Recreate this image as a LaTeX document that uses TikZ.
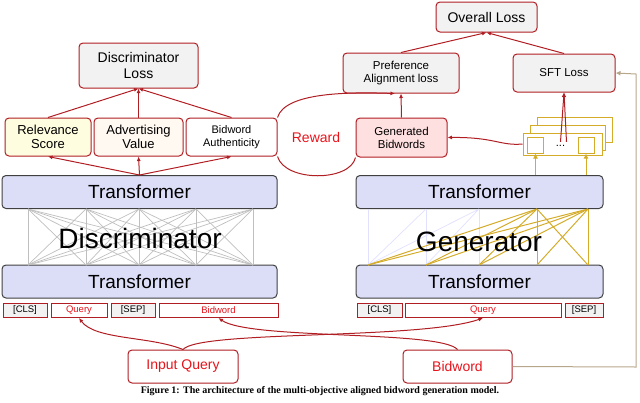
\documentclass[tikz,border=0pt]{standalone}
\usepackage{fontspec}
\setmainfont{Liberation Sans}
\newfontfamily\capfont{Liberation Serif}
\usetikzlibrary{arrows.meta}
\definecolor{bred}{HTML}{B01E24}
\definecolor{rtxt}{HTML}{E8141C}
\definecolor{lgray}{HTML}{F2F2F2}
\definecolor{tblue}{HTML}{DCDEF8}
\definecolor{gold}{HTML}{D4AC2A}
\definecolor{tan}{HTML}{B8A68A}
\begin{document}
\begin{tikzpicture}[x=1pt,y=-1pt,
box/.style={draw=bred, line width=1pt, fill=lgray, rounded corners=4pt, align=center, inner sep=0pt, font=\fontsize{13}{14.5}\selectfont},
trans/.style={draw=black!75, line width=1pt, fill=tblue, rounded corners=4pt, minimum width=275pt, minimum height=33pt, inner sep=0pt, font=\fontsize{19}{20}\selectfont},
tok/.style={draw=bred, line width=1pt, fill=lgray, minimum height=14pt, inner sep=0pt, font=\fontsize{9.5}{10}\selectfont},
arr/.style={bred, line width=1pt, -{Latex[length=4.5pt,width=4pt]}},
net/.style={black!25, line width=0.7pt},
yel/.style={draw=gold, line width=1pt, fill=white}
]
\useasboundingbox (0,0) rectangle (640,402);
% discriminator side
\node[box, minimum width=119pt, minimum height=45pt, font=\fontsize{14}{16}\selectfont] (dloss) at (138.5,65.5) {Discriminator\\Loss};
\node[box, fill=yellow!12, minimum width=86pt, minimum height=38pt] (rel) at (48,137) {Relevance\\Score};
\node[box, fill=orange!5, minimum width=89pt, minimum height=38pt] (adv) at (138.5,137) {Advertising\\Value};
\node[box, fill=white, minimum width=91pt, minimum height=38pt, font=\fontsize{11}{13}\selectfont] (auth) at (231.5,137) {Bidword\\Authenticity};
\node[trans] (dtop) at (139.5,192) {Transformer};
\node[trans] (dbot) at (139.5,281.5) {Transformer};
\foreach \i/\x in {1/28,2/86,3/139,4/196,5/253}{
  \coordinate (dt\i) at (\x,209);
  \coordinate (db\i) at (\x,265);
}
\foreach \i in {1,...,5}{\foreach \j in {1,...,5}{\draw[net] (dt\i) -- (db\j);}}
\node[font=\fontsize{28}{30}\selectfont] (dname) at (140,238) {Discriminator};
\node[tok, minimum width=44pt] (dcls) at (25,310.5) {[CLS]};
\node[tok, fill=white, text=rtxt, minimum width=56pt] (dq) at (79,310.5) {Query};
\node[tok, minimum width=44pt] (dsep) at (133,310.5) {[SEP]};
\node[tok, fill=white, text=rtxt, minimum width=119pt] (db) at (218.5,310.5) {Bidword};
\foreach \n in {rel,adv,auth}{\draw[arr] (dtop.north) -- (\n.south);}
\foreach \n in {rel,adv,auth}{\draw[arr] (\n.north) -- (dloss.south);}
% generator side
\node[box, minimum width=101pt, minimum height=30pt, font=\fontsize{14}{15}\selectfont] (oloss) at (486.5,17) {Overall Loss};
\node[box, minimum width=116pt, minimum height=40pt, font=\fontsize{11.5}{13}\selectfont] (pref) at (401,73) {Preference\\Alignment loss};
\node[box, minimum width=102pt, minimum height=38pt, font=\fontsize{11.5}{13}\selectfont] (sft) at (564,73) {SFT Loss};
\node[box, fill=red!12, minimum width=91pt, minimum height=39pt, font=\fontsize{11.5}{13}\selectfont] (gen) at (401.5,137.5) {Generated\\Bidwords};
\node[trans, minimum width=247pt] (gtop) at (479.5,192) {Transformer};
\node[trans, minimum width=247pt] (gbot) at (479.5,281.5) {Transformer};
\foreach \i/\x in {1/368,2/426,3/479,4/537,5/588}{
  \coordinate (gt\i) at (\x,209);
  \coordinate (gb\i) at (\x,265);
}
\foreach \i in {1,2,3}{\draw[blue!12, line width=0.7pt] (gt\i) -- (gb\i);}
\draw[blue!12, line width=0.7pt] (gt2) -- (gb1) (gt3) -- (gb1) (gt3) -- (gb2);
\foreach \t in {4,5}{\foreach \j in {1,...,5}{\draw[gold, line width=1pt] (gt\t) -- (gb\j);}}
\node[font=\fontsize{28}{30}\selectfont] (gname) at (479,242) {Generator};
\node[tok, minimum width=45pt] (gcls) at (379.5,310.5) {[CLS]};
\node[tok, fill=white, text=rtxt, minimum width=156pt] (gq) at (483,310.5) {Query};
\node[tok, minimum width=38pt] (gsep) at (584,310.5) {[SEP]};
% stacked sequences
\node[yel, minimum width=75pt, minimum height=25pt] (s3) at (574.5,129.5) {};
\node[yel, minimum width=75pt, minimum height=25pt] (s2) at (567.5,137.5) {};
\node[yel, minimum width=79pt, minimum height=22pt] (s1) at (562.5,144) {};
\node[yel, minimum size=16pt] (q1) at (535.5,145) {};
\node[yel, minimum size=16pt] (q2) at (586,145) {};
\node[font=\fontsize{11}{11}\selectfont] (dots) at (560.5,146) {...};
\draw[gold, line width=1pt, -{Latex[length=5pt,width=5pt]}] (gtop.north -| q1) -- (q1.south);
\draw[gold, line width=1pt, -{Latex[length=5pt,width=5pt]}] (gtop.north -| q2) -- (q2.south);
\draw[arr] (dots.north) -- (sft.south);
\draw[arr] ([xshift=6pt]dots.north) -- (sft.south);
\draw[arr] (s1.west) .. controls (500,146) and (495,137) .. (gen.east);
\draw[arr] (gen.north) -- (pref.south);
\draw[arr] (pref.north) -- (oloss.south);
\draw[arr] (sft.north) -- (oloss.south);
% reward
\node[text=rtxt, font=\fontsize{14}{15}\selectfont] (rew) at (316,137) {Reward};
\draw[arr] (auth.north east) .. controls (285,92) and (350,92) .. ([xshift=-6pt]pref.south);
\draw[bred, line width=1pt] (auth.south east) .. controls (285,182) and (350,182) .. (gen.south west);
% inputs
\node[box, fill=white, text=rtxt, minimum width=110pt, minimum height=33pt, font=\fontsize{14}{15}\selectfont] (iq) at (183,366.5) {Input Query};
\node[box, fill=white, text=rtxt, minimum width=109pt, minimum height=33pt, font=\fontsize{14}{15}\selectfont] (bw) at (457.5,366.5) {Bidword};
\draw[arr] (iq.north) .. controls (150,336) and (95,340) .. (dq.south);
\draw[arr] (iq.north) .. controls (200,330) and (420,340) .. (gq.south);
\draw[arr] (bw.north) .. controls (440,330) and (250,340) .. (db.south);
\coordinate (c1) at (636,367);
\coordinate (c2) at (636,74);
\draw[tan, line width=1pt, -{Latex[length=5pt,width=5pt]}] (bw.east) -- (c1) -- (c2) -- (sft.east);
% caption
\node[font=\capfont\bfseries\fontsize{10}{11}\selectfont] (cap) at (320,391) {Figure 1: The architecture of the multi-objective aligned bidword generation model.};
\end{tikzpicture}
\end{document}
